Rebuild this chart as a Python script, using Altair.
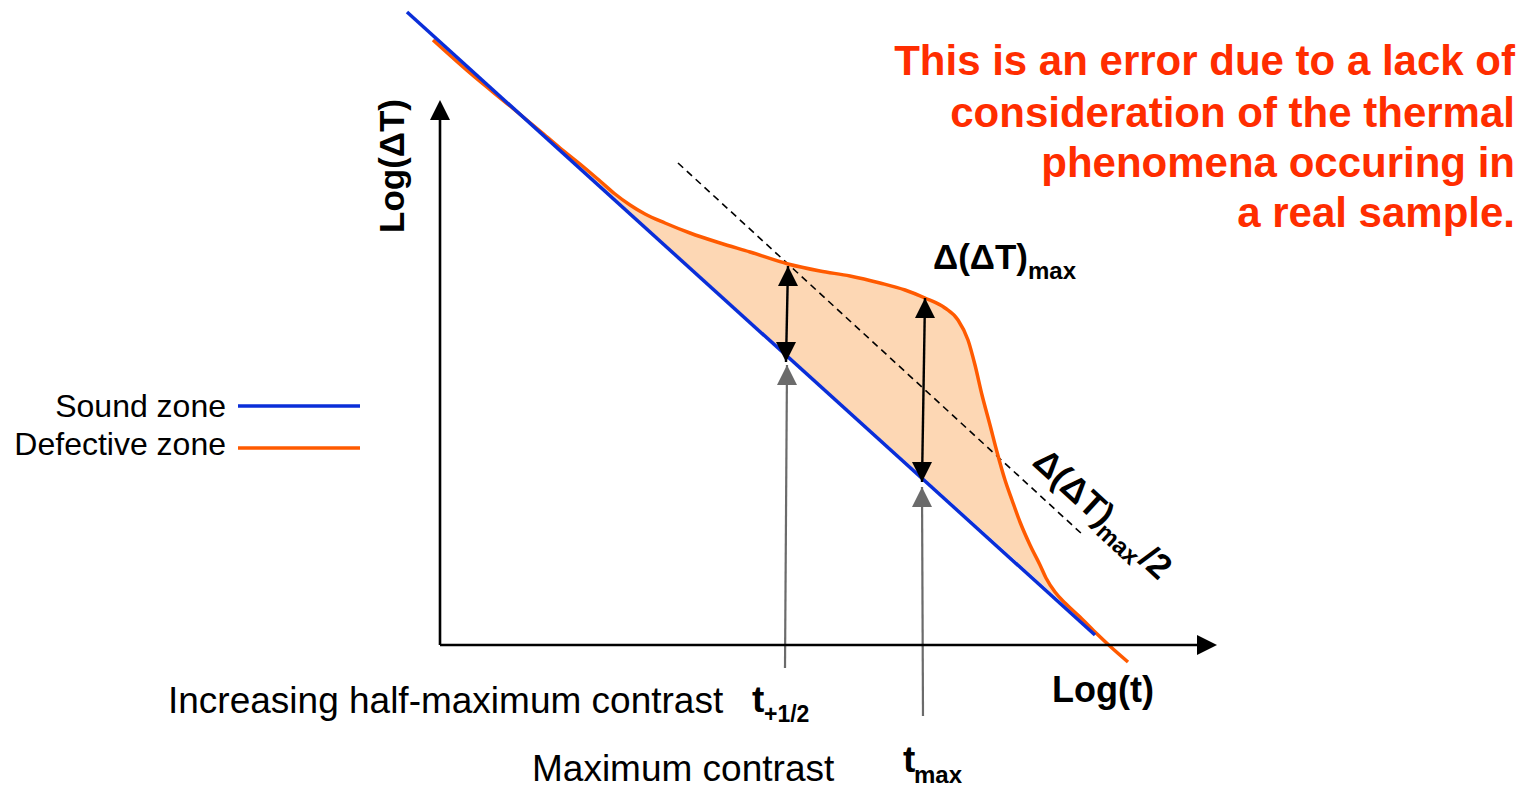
import math
import altair as alt
import pandas as pd

W, H = 1528, 790

# Colours
BLUE = "#0a2ed8"
ORANGE = "#ff5a00"
PEACH = "#fdd7b4"
RED = "#ff2d00"
GRAY = "#6b6b6b"
FONT = "Liberation Sans"

# Sound zone: straight line in log-log space (diagram units, y grows downward)
SOUND_X = [407, 1095]
SOUND_Y = [12, 635]

# Defective zone curve
DEFECT_X = [433, 470, 510, 540, 560, 580, 600, 615, 630, 645, 665, 690, 720, 750, 788,
            820, 850, 880, 905, 925, 945, 958, 968, 975, 982, 990, 997, 1005,
            1012, 1020, 1030, 1040, 1046, 1055, 1065, 1080, 1095, 1112, 1128]
DEFECT_Y = [40, 73, 106, 131, 148, 164, 181, 194, 205, 214, 223, 233, 243, 252, 264,
            271, 276, 283, 290, 298, 308, 320, 340, 365, 395, 425, 452, 480,
            500, 522, 545, 565, 578, 592, 603, 617, 632, 648, 662]
# Part of the defect curve that encloses the contrast region with the sound line
FILL_FROM, FILL_TO = 540, 1095

# Half-maximum guide line
HALF_X = [678, 1083]
HALF_Y = [163, 535]

# Double arrows (top tip, bottom tip): contrast at t+1/2 and at t_max
DARROW_X1 = [788, 925]
DARROW_Y1 = [266, 298]
DARROW_X2 = [786, 922]
DARROW_Y2 = [362, 482]

# Gray pointer arrows (tip, tail)
PTR_X = [787, 922]
PTR_Y = [365, 487]
PTR_TAIL_X = [785, 923]
PTR_TAIL_Y = [668, 716]

# Axes: origin and ends
ORIGIN = (440, 645)
Y_AXIS_END = 100
X_AXIS_END = 1217

HEAD = 20  # arrowhead length

# Legend
LEGEND_LABELS = ["Sound zone", "Defective zone"]
LEGEND_COLORS = [BLUE, ORANGE]
LEGEND_TEXT_X = 226
LEGEND_TEXT_Y = [417, 455]
LEGEND_LINE_X = [238, 360]
LEGEND_LINE_Y = [406, 448]

# Note
NOTE_LINES = ["This is an error due to a lack of", "consideration of the thermal",
              "phenomena occuring in", "a real sample."]
NOTE_X = 1515
NOTE_Y = [75, 127, 177, 227]

XS = alt.Scale(domain=[0, W], nice=False, zero=False)
YS = alt.Scale(domain=[0, H], nice=False, zero=False, reverse=True)


def xenc(f="x"):
    return alt.X(f"{f}:Q", scale=XS, axis=None)


def yenc(f="y"):
    return alt.Y(f"{f}:Q", scale=YS, axis=None)


# ---- contrast region
fill_pts = [(x, y) for x, y in zip(DEFECT_X, DEFECT_Y) if FILL_FROM <= x <= FILL_TO]
fill_df = pd.DataFrame({"x": [p[0] for p in fill_pts], "y": [p[1] for p in fill_pts],
                        "o": list(range(len(fill_pts)))})
region = alt.Chart(fill_df).mark_line(fill=PEACH, strokeOpacity=0, interpolate="monotone").encode(
    x=xenc(), y=yenc(), order="o:Q")

# ---- curves
defect_df = pd.DataFrame({"x": DEFECT_X, "y": DEFECT_Y, "o": list(range(len(DEFECT_X)))})
defect = alt.Chart(defect_df).mark_line(color=ORANGE, strokeWidth=3.5, interpolate="monotone").encode(
    x=xenc(), y=yenc(), order="o:Q")

sound_df = pd.DataFrame({"x": SOUND_X, "y": SOUND_Y, "o": [0, 1]})
sound = alt.Chart(sound_df).mark_line(color=BLUE, strokeWidth=3.5).encode(
    x=xenc(), y=yenc(), order="o:Q")

half_df = pd.DataFrame({"x": [HALF_X[0]], "y": [HALF_Y[0]], "x2": [HALF_X[1]], "y2": [HALF_Y[1]]})
half = alt.Chart(half_df).mark_rule(color="black", strokeWidth=1.6, strokeDash=[7, 5]).encode(
    x=xenc(), y=yenc(), x2="x2:Q", y2="y2:Q")

# ---- arrow shafts
dshaft_df = pd.DataFrame({"x": DARROW_X1, "y": DARROW_Y1, "x2": DARROW_X2, "y2": DARROW_Y2})
dshaft = alt.Chart(dshaft_df).mark_rule(color="black", strokeWidth=2.4).encode(
    x=xenc(), y=yenc(), x2="x2:Q", y2="y2:Q")

pshaft_df = pd.DataFrame({"x": PTR_X, "y": PTR_Y, "x2": PTR_TAIL_X, "y2": PTR_TAIL_Y})
pshaft = alt.Chart(pshaft_df).mark_rule(color=GRAY, strokeWidth=2.2).encode(
    x=xenc(), y=yenc(), x2="x2:Q", y2="y2:Q")

axes_df = pd.DataFrame({
    "x": [ORIGIN[0], ORIGIN[0]], "y": [ORIGIN[1], ORIGIN[1]],
    "x2": [ORIGIN[0], X_AXIS_END - HEAD / 2], "y2": [Y_AXIS_END + HEAD / 2, ORIGIN[1]]})
axes = alt.Chart(axes_df).mark_rule(color="black", strokeWidth=2.6).encode(
    x=xenc(), y=yenc(), x2="x2:Q", y2="y2:Q")

# ---- arrowheads (custom triangles, tip at one end of the unit box)
UP = "M0,-1L1,1L-1,1Z"
DOWN = "M0,1L1,-1L-1,-1Z"
RIGHT = "M1,0L-1,1L-1,-1Z"
heads = []
for x, y in zip(DARROW_X1, DARROW_Y1):
    heads.append((x, y + HEAD / 2, UP, "black"))
for x, y in zip(DARROW_X2, DARROW_Y2):
    heads.append((x, y - HEAD / 2, DOWN, "black"))
for x, y in zip(PTR_X, PTR_Y):
    heads.append((x, y + HEAD / 2, UP, GRAY))
heads.append((ORIGIN[0], Y_AXIS_END + HEAD / 2, UP, "black"))
heads.append((X_AXIS_END - HEAD / 2, ORIGIN[1], RIGHT, "black"))
heads_df = pd.DataFrame(heads, columns=["x", "y", "shape", "col"])
arrowheads = alt.Chart(heads_df).mark_point(filled=True, opacity=1, size=HEAD * HEAD, strokeWidth=0).encode(
    x=xenc(), y=yenc(),
    shape=alt.Shape("shape:N", scale=None),
    color=alt.Color("col:N", scale=None))

# ---- legend
leg_line_df = pd.DataFrame({"x": [LEGEND_LINE_X[0]] * 2, "x2": [LEGEND_LINE_X[1]] * 2,
                            "y": LEGEND_LINE_Y, "col": LEGEND_COLORS})
leg_lines = alt.Chart(leg_line_df).mark_rule(strokeWidth=3.5).encode(
    x=xenc(), x2="x2:Q", y=yenc(), color=alt.Color("col:N", scale=None))
leg_text_df = pd.DataFrame({"x": [LEGEND_TEXT_X] * 2, "y": LEGEND_TEXT_Y, "t": LEGEND_LABELS})
leg_text = alt.Chart(leg_text_df).mark_text(
    font=FONT, fontSize=32, align="right", baseline="alphabetic", color="black").encode(
    x=xenc(), y=yenc(), text="t:N")

# ---- note
note_df = pd.DataFrame({"x": [NOTE_X] * len(NOTE_LINES), "y": NOTE_Y, "t": NOTE_LINES})
note = alt.Chart(note_df).mark_text(
    font=FONT, fontSize=42, fontWeight="bold", align="right", baseline="alphabetic", color=RED).encode(
    x=xenc(), y=yenc(), text="t:N")

# ---- plain captions
cap_df = pd.DataFrame({"x": [168, 532], "y": [713, 781],
                       "t": ["Increasing half-maximum contrast", "Maximum contrast"]})
captions = alt.Chart(cap_df).mark_text(
    font=FONT, fontSize=37, align="left", baseline="alphabetic", color="black").encode(
    x=xenc(), y=yenc(), text="t:N")

# ---- bold symbols with subscripts
sym_df = pd.DataFrame({
    "x": [752, 764, 903, 914, 933, 1028],
    "y": [712, 722, 772, 783, 269, 279],
    "t": ["t", "+1/2", "t", "max", "Δ(ΔT)", "max"],
    "fs": [37, 23, 37, 24, 35, 24]})
symbols = alt.Chart(sym_df).mark_text(
    font=FONT, fontWeight="bold", align="left", baseline="alphabetic", color="black").encode(
    x=xenc(), y=yenc(), text="t:N", size=alt.Size("fs:Q", scale=None))

logt = alt.Chart(pd.DataFrame({"x": [1103], "y": [702], "t": ["Log(t)"]})).mark_text(
    font=FONT, fontSize=36, fontWeight="bold", align="center", baseline="alphabetic", color="black").encode(
    x=xenc(), y=yenc(), text="t:N")

logdt = alt.Chart(pd.DataFrame({"x": [404], "y": [166], "t": ["Log(ΔT)"]})).mark_text(
    font=FONT, fontSize=35, fontWeight="bold", align="center", baseline="alphabetic", angle=270,
    color="black").encode(x=xenc(), y=yenc(), text="t:N")

# ---- half-maximum label written along the guide line
ang = math.degrees(math.atan2(HALF_Y[1] - HALF_Y[0], HALF_X[1] - HALF_X[0]))
ux, uy = math.cos(math.radians(ang)), math.sin(math.radians(ang))
dx, dy = -uy, ux  # towards the text's bottom
ax, ay = 1031, 464
pieces = [("Δ(ΔT)", 0, 0, 35), ("max", 94, 8, 24), ("/2", 144, 0, 35)]
rot_df = pd.DataFrame({
    "x": [ax + ux * a + dx * b for _, a, b, _ in pieces],
    "y": [ay + uy * a + dy * b for _, a, b, _ in pieces],
    "t": [p[0] for p in pieces],
    "fs": [p[3] for p in pieces]})
rot = alt.Chart(rot_df).mark_text(
    font=FONT, fontWeight="bold", align="left", baseline="alphabetic", angle=ang, color="black").encode(
    x=xenc(), y=yenc(), text="t:N", size=alt.Size("fs:Q", scale=None))

chart = alt.layer(
    region, half, defect, sound, dshaft, pshaft, axes, arrowheads,
    leg_lines, leg_text, note, captions, symbols, logt, logdt, rot
).properties(
    width=W, height=H, padding=0, autosize="none", background="white"
).configure_view(stroke=None)

chart.save("out.html", embed_options={"renderer": "svg", "actions": False})
